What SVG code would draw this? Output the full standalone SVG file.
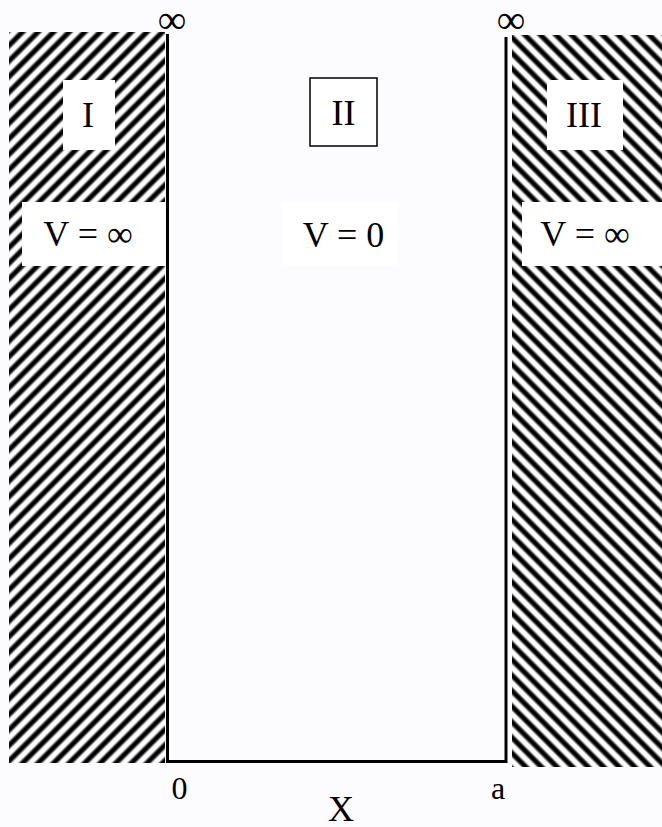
<svg xmlns="http://www.w3.org/2000/svg" width="662" height="827" viewBox="0 0 662 827">
  <defs>
    <linearGradient id="stripe" x1="0" y1="0" x2="1" y2="0">
      <stop offset="0" stop-color="#fff"/>
      <stop offset="0.16" stop-color="#fff"/>
      <stop offset="0.37" stop-color="#000"/>
      <stop offset="0.63" stop-color="#000"/>
      <stop offset="0.84" stop-color="#fff"/>
      <stop offset="1" stop-color="#fff"/>
    </linearGradient>
    <pattern id="hatchL" width="11" height="20" patternUnits="userSpaceOnUse" patternTransform="rotate(45)">
      <rect width="11" height="20" fill="url(#stripe)"/>
    </pattern>
    <pattern id="hatchR" width="11" height="20" patternUnits="userSpaceOnUse" patternTransform="rotate(-45)">
      <rect width="11" height="20" fill="url(#stripe)"/>
    </pattern>
  </defs>
  <style>
    text { font-family: "Liberation Serif", "Times New Roman", serif; fill: #000; text-anchor: middle; }
    .big { font-size: 36px; }
    .inf { font-size: 40px; }
    .lbl { font-size: 32px; }
    .box { fill: #fff; stroke: none; }
    .wall { stroke: #000; stroke-width: 3; fill: none; }
  </style>
  <rect width="662" height="827" fill="#fcfbfe"/>

  <g id="region-I">
    <rect x="9" y="32" width="156" height="731" fill="url(#hatchL)"/>
    <rect class="box" x="63" y="80" width="52" height="70"/>
    <text class="big" x="88" y="127">I</text>
    <rect class="box" x="22" y="202" width="143" height="64"/>
    <text class="big" x="88" y="246">V = ∞</text>
  </g>

  <g id="region-II">
    <rect x="310" y="78" width="67" height="68" fill="#fff" stroke="#000" stroke-width="1.5"/>
    <text class="big" x="343.5" y="125">II</text>
    <rect class="box" x="282" y="202" width="116" height="63"/>
    <text class="big" x="343.5" y="247">V = 0</text>
  </g>

  <g id="region-III">
    <rect x="512" y="35" width="150" height="732" fill="url(#hatchR)"/>
    <rect class="box" x="547" y="80" width="76" height="70"/>
    <text class="big" x="584" y="127">III</text>
    <rect class="box" x="522" y="202" width="140" height="64"/>
    <text class="big" x="585" y="246">V = ∞</text>
  </g>

  <g id="connectors">
    <polyline class="wall" points="167.5,34 167.5,761.5 506,761.5 506,37"/>
  </g>

  <g id="labels">
    <text class="inf" x="172" y="33">∞</text>
    <text class="inf" x="511" y="33">∞</text>
    <text class="lbl" x="179.5" y="799">0</text>
    <text class="lbl" x="498" y="799">a</text>
    <text class="big" x="341" y="821">X</text>
  </g>
</svg>
